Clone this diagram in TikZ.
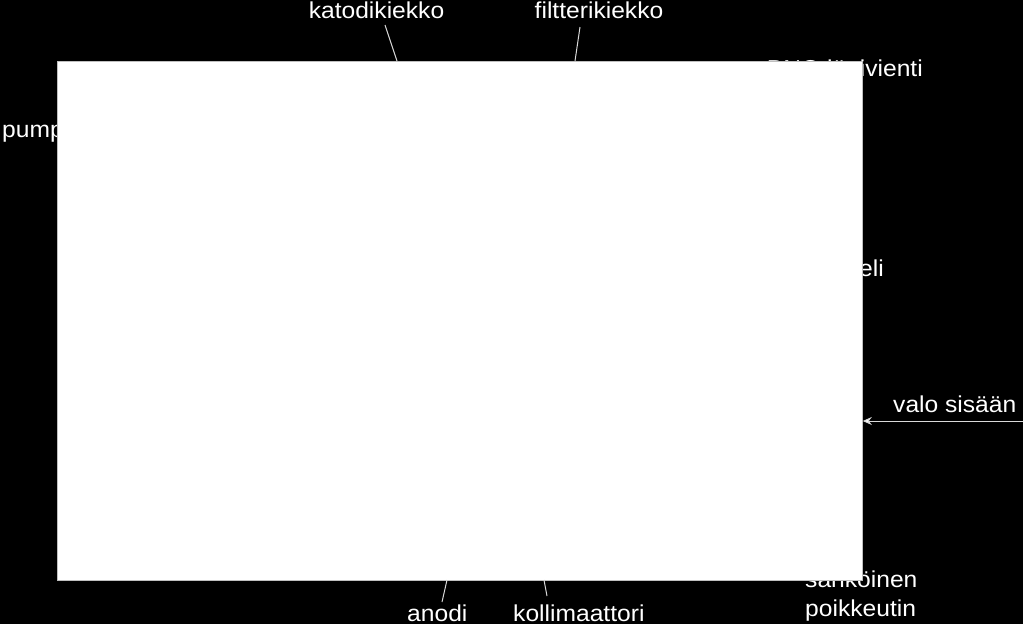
\documentclass[tikz,border=0pt]{standalone}
\usepackage{fontspec}
\setmainfont{Liberation Sans}[FakeStretch=1.07]
\usetikzlibrary{arrows.meta}
\begin{document}
\begin{tikzpicture}[x=1pt,y=-1pt,
  lbl/.style={text=white,inner sep=0pt,font=\fontsize{23}{29}\selectfont},
  leader/.style={draw=white!85!black,line width=1pt},
  mainbox/.style={draw=white!75!black,line width=0.8pt,fill=white,inner sep=0pt,minimum width=805pt,minimum height=519pt,anchor=north west}]
\fill[black] (0,0) rectangle (1023,624);
\useasboundingbox (0,0) rectangle (1023,624);
% labels
\node[lbl,anchor=base] (kat) at (376.5,18) {katodikiekko};
\node[lbl,anchor=base] (fil) at (599,18) {filtterikiekko};
\node[lbl,anchor=base east] (bnc) at (923,76) {BNC-läpivienti};
\node[lbl,anchor=base west] (pum) at (2,137) {pumppu};
\node[lbl,anchor=base east] (kaa) at (884,276) {kaapeli};
\node[lbl,anchor=base west] (val) at (893,412) {valo sisään};
\node[lbl,anchor=base west] (ano) at (407,621) {anodi};
\node[lbl,anchor=base west] (kol) at (513,621) {kollimaattori};
\node[lbl,anchor=base west] (sah) at (805,587) {sähköinen};
\node[lbl,anchor=base west] (poi) at (805,616) {poikkeutin};
% box
\node[mainbox] (box) at (57,61) {};
% leader ends
\coordinate (katA) at (385,25);
\coordinate (katB) at (397,61);
\coordinate (filA) at (580,27);
\coordinate (filB) at (575,61);
\coordinate (anoA) at (447,580);
\coordinate (anoB) at (442,602);
\coordinate (kolA) at (544,580);
\coordinate (kolB) at (547,596);
\coordinate (valA) at (1023,421);
\coordinate (valB) at (box.east |- valA);
\draw[leader] (katA) -- (katB);
\draw[leader] (filA) -- (filB);
\draw[leader] (anoA) -- (anoB);
\draw[leader] (kolA) -- (kolB);
\draw[leader,-{Stealth[length=9pt,width=8pt,fill=white]}] (valA) -- (valB);
\end{tikzpicture}
\end{document}
